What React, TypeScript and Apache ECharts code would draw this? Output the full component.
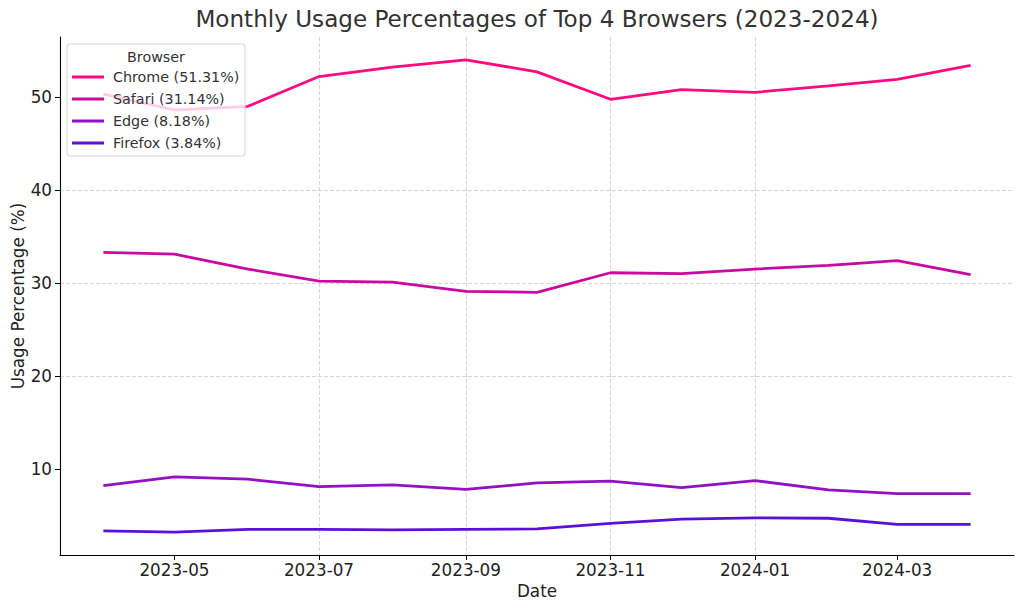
import React, { useEffect, useRef } from 'react';
import * as echarts from 'echarts';

const months = ['2023-04', '2023-05', '2023-06', '2023-07', '2023-08', '2023-09', '2023-10', '2023-11', '2023-12', '2024-01', '2024-02', '2024-03', '2024-04'];
const chrome = [50.3, 48.6, 49.0, 52.2, 53.2, 54.0, 52.7, 49.75, 50.8, 50.5, 51.2, 51.9, 53.4];
const safari = [33.3, 33.1, 31.5, 30.2, 30.1, 29.1, 29.0, 31.1, 31.0, 31.5, 31.9, 32.4, 30.9];
const edge = [8.2, 9.15, 8.9, 8.1, 8.3, 7.8, 8.5, 8.7, 8.0, 8.75, 7.75, 7.35, 7.35];
const firefox = [3.35, 3.2, 3.5, 3.5, 3.45, 3.5, 3.55, 4.15, 4.6, 4.75, 4.7, 4.05, 4.05];
const seriesNames = ['Chrome (51.31%)', 'Safari (31.14%)', 'Edge (8.18%)', 'Firefox (3.84%)'];
const seriesColors = ['#ff0a80', '#c80aa0', '#9410c4', '#5a10d8'];
const xTickLabels = ['2023-05', '2023-07', '2023-09', '2023-11', '2024-01', '2024-03'];
const yTickValues = [10, 20, 30, 40, 50];

const FONT = 'DejaVu Sans';

function parseMonth(m: string): number {
  const [y, mo] = m.split('-').map(Number);
  return Date.UTC(y, mo - 1, 1);
}

function fmtMonth(v: number): string {
  const d = new Date(v);
  const mm = d.getUTCMonth() + 1;
  return `${d.getUTCFullYear()}-${mm < 10 ? '0' + mm : mm}`;
}

export default function App() {
  const ref = useRef<HTMLDivElement>(null);
  useEffect(() => {
    document.body.style.margin = '0';
    const chart = echarts.init(ref.current!, null, { renderer: 'svg' });
    const xs = months.map(parseMonth);
    const all = [chrome, safari, edge, firefox];
    const span = xs[xs.length - 1] - xs[0];
    const xTicks = xTickLabels.map(parseMonth);
    const option: any = {
      animation: false,
      textStyle: { fontFamily: FONT },
      title: {
        text: 'Monthly Usage Percentages of Top 4 Browsers (2023-2024)',
        left: 537,
        top: 7,
        padding: 0,
        textAlign: 'center',
        textStyle: { fontFamily: FONT, fontSize: 23.1, fontWeight: 'normal', color: '#333333' },
      },
      grid: { left: 60, right: 10, top: 37, bottom: 56, containLabel: false, outerBoundsMode: 'none' },
      legend: {
        orient: 'vertical',
        left: 72,
        top: 69,
        z: 20,
        icon: 'rect',
        itemWidth: 32,
        itemHeight: 3,
        itemGap: 6,
        padding: 0,
        data: seriesNames,
        textStyle: { fontFamily: FONT, fontSize: 14.3, color: '#333333', lineHeight: 16, padding: [0, 0, 0, 4] },
      },
      graphic: [
        {
          type: 'rect',
          z: 10,
          shape: { x: 67, y: 44, width: 178, height: 112, r: 3 },
          style: { fill: 'rgba(255,255,255,0.8)', stroke: '#d4d4d4', lineWidth: 1 },
        },
        {
          type: 'text',
          z: 20,
          x: 156,
          y: 57,
          style: { text: 'Browser', fontFamily: FONT, fontSize: 14.3, fill: '#333333', align: 'center', verticalAlign: 'middle' },
        },
      ],
      xAxis: {
        type: 'value',
        scale: true,
        min: xs[0] - span * 0.05,
        max: xs[xs.length - 1] + span * 0.05,
        name: 'Date',
        nameLocation: 'middle',
        nameGap: 27,
        nameMoveOverlap: false,
        nameTextStyle: { fontFamily: FONT, fontSize: 16.8, color: '#222222' },
        axisLine: { show: true, onZero: false, lineStyle: { color: '#000000', width: 1.1 } },
        axisTick: { show: true, length: 5, lineStyle: { color: '#000000', width: 1 }, customValues: xTicks },
        axisLabel: {
          customValues: xTicks,
          formatter: (v: number) => fmtMonth(v),
          fontFamily: FONT,
          fontSize: 16.8,
          color: '#222222',
          margin: 6,
        },
        splitLine: { show: true, showMinLine: false, showMaxLine: false, lineStyle: { color: '#cccccc', width: 0.8, type: [4, 2] } },
      },
      yAxis: {
        type: 'value',
        min: 0.75,
        max: 56.45,
        name: 'Usage Percentage (%)',
        nameLocation: 'middle',
        nameGap: 34,
        nameMoveOverlap: false,
        nameTextStyle: { fontFamily: FONT, fontSize: 16.8, color: '#222222' },
        axisLine: { show: true, onZero: false, lineStyle: { color: '#000000', width: 1.1 } },
        axisTick: { show: true, length: 5, lineStyle: { color: '#000000', width: 1 }, customValues: yTickValues },
        axisLabel: {
          customValues: yTickValues,
          fontFamily: FONT,
          fontSize: 16.8,
          color: '#222222',
          margin: 8,
        },
        splitLine: { show: true, showMinLine: false, showMaxLine: false, lineStyle: { color: '#cccccc', width: 0.8, type: [4, 2] } },
      },
      series: all.map((vals, i) => ({
        name: seriesNames[i],
        type: 'line',
        showSymbol: false,
        symbol: 'none',
        z: 2,
        color: seriesColors[i],
        lineStyle: { width: 2.8, color: seriesColors[i] },
        data: xs.map((x, j) => [x, vals[j]]),
      })),
    };
    chart.setOption(option);
    return () => chart.dispose();
  }, []);
  return <div ref={ref} style={{ width: 1024, height: 611 }} />;
}
